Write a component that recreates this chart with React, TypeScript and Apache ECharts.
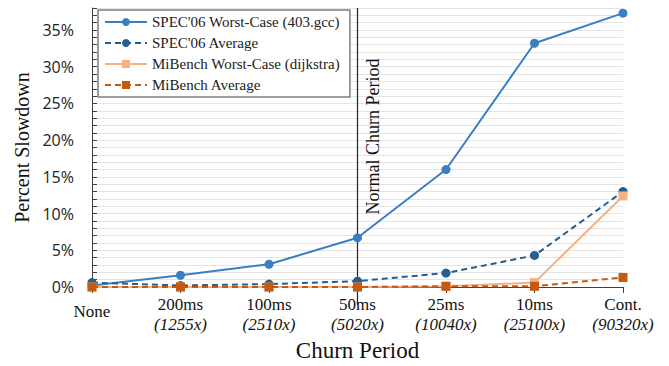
import React, { useEffect, useRef } from "react";
import * as echarts from "echarts";

const categories = ["None", "200ms", "100ms", "50ms", "25ms", "10ms", "Cont."];
const ratios = ["", "(1255x)", "(2510x)", "(5020x)", "(10040x)", "(25100x)", "(90320x)"];
const specWorst = [0.2, 1.6, 3.1, 6.7, 16.0, 33.2, 37.3];
const specAvg = [0.6, 0.2, 0.4, 0.8, 1.9, 4.3, 13.0];
const miWorst = [0.0, 0.0, 0.0, 0.0, 0.1, 0.6, 12.4];
const miAvg = [0.0, 0.0, 0.0, 0.0, 0.1, 0.1, 1.3];
const seriesNames = [
  "SPEC'06 Worst-Case (403.gcc)",
  "SPEC'06 Average",
  "MiBench Worst-Case (dijkstra)",
  "MiBench Average",
];
const markerCategory = "50ms";
const markerText = "Normal Churn Period";

const SERIF = "Liberation Serif";

export default function App() {
  const ref = useRef<HTMLDivElement>(null);
  useEffect(() => {
    if (!ref.current) return;
    const chart = echarts.init(ref.current, undefined, { renderer: "svg" });
    const mk = (name: string, data: number[], color: string, symbol: string, dashed: boolean, size: number, z: number) => ({
      name,
      type: "line",
      data,
      symbol,
      symbolSize: size,
      z,
      itemStyle: { color },
      lineStyle: { color, width: 2, type: dashed ? [6, 4] : "solid" },
    });
    chart.setOption({
      animation: false,
      backgroundColor: "#ffffff",
      textStyle: { fontFamily: SERIF },
      grid: { left: 92, right: 46, top: 8, bottom: 79, containLabel: false, outerBoundsMode: "none" },
      legend: {
        orient: "vertical",
        left: 98,
        top: 10,
        backgroundColor: "#ffffff",
        borderColor: "#7f7f7f",
        borderWidth: 1.5,
        borderRadius: 0,
        padding: [4, 10, 4, 6],
        itemWidth: 42,
        itemHeight: 10,
        itemGap: 5,
        textStyle: { fontFamily: SERIF, fontSize: 15, color: "#222", lineHeight: 16 },
        data: seriesNames,
      },
      xAxis: {
        type: "category",
        data: categories,
        boundaryGap: false,
        axisLine: { lineStyle: { color: "#404040", width: 1 } },
        axisTick: { show: true, length: 6, lineStyle: { color: "#404040" } },
        axisLabel: {
          margin: 7,
          interval: 0,
          fontFamily: SERIF,
          fontSize: 17,
          color: "#111",
          lineHeight: 20,
          formatter: (v: string, i: number) =>
            ratios[i] ? `{a|${v}}\n{i|${ratios[i]}}` : `{n|${v}}`,
          rich: {
            a: { fontFamily: SERIF, fontSize: 17, color: "#111", lineHeight: 20 },
            i: { fontFamily: SERIF, fontSize: 17, fontStyle: "italic", color: "#111", lineHeight: 20 },
            n: { fontFamily: SERIF, fontSize: 17, color: "#111", lineHeight: 20, padding: [14, 0, 0, 0] },
          },
        },
        name: "Churn Period",
        nameLocation: "middle",
        nameGap: 48,
        nameTextStyle: { fontFamily: SERIF, fontSize: 23, color: "#111" },
      },
      yAxis: {
        type: "value",
        min: 0,
        max: 38,
        interval: 1,
        axisLine: { show: true, lineStyle: { color: "#404040" } },
        axisTick: { show: true, inside: true, length: 5, lineStyle: { color: "#404040" } },
        splitLine: { show: true, lineStyle: { color: "#e4e4e4", width: 1 } },
        axisLabel: {
          margin: 18,
          fontFamily: "Open Sans",
          fontSize: 16,
          color: "#222",
          formatter: (v: number) => (v % 5 === 0 ? `${v}%` : ""),
        },
        name: "Percent Slowdown",
        nameLocation: "middle",
        nameGap: 60,
        nameTextStyle: { fontFamily: SERIF, fontSize: 20, color: "#111" },
      },
      series: [
        mk(seriesNames[0], specWorst, "#3a7fc1", "circle", false, 9, 3),
        mk(seriesNames[1], specAvg, "#255e91", "circle", true, 9, 4),
        mk(seriesNames[2], miWorst, "#f4b183", "rect", false, 9, 5),
        mk(seriesNames[3], miAvg, "#c55a11", "rect", true, 9, 6),
      ],
    });
    const x = chart.convertToPixel({ xAxisIndex: 0 }, markerCategory) as number;
    const yTop = chart.convertToPixel({ yAxisIndex: 0 }, 38) as number;
    const yBot = chart.convertToPixel({ yAxisIndex: 0 }, 0) as number;
    const yMid = chart.convertToPixel({ yAxisIndex: 0 }, 20.5) as number;
    chart.setOption({
      graphic: [
        {
          type: "line",
          shape: { x1: x, y1: yTop, x2: x, y2: yBot + 18 },
          style: { stroke: "#222", lineWidth: 1.2 },
          z: 2,
        },
        {
          type: "text",
          x: x + 15,
          y: yMid,
          rotation: Math.PI / 2,
          style: {
            text: markerText,
            fontFamily: SERIF,
            fontSize: 18,
            fill: "#111",
            align: "center",
            verticalAlign: "middle",
          },
          z: 2,
        },
      ],
    });
    return () => chart.dispose();
  }, []);
  return <div ref={ref} style={{ width: 669, height: 366, position: "absolute", left: 0, top: 0 }} />;
}
